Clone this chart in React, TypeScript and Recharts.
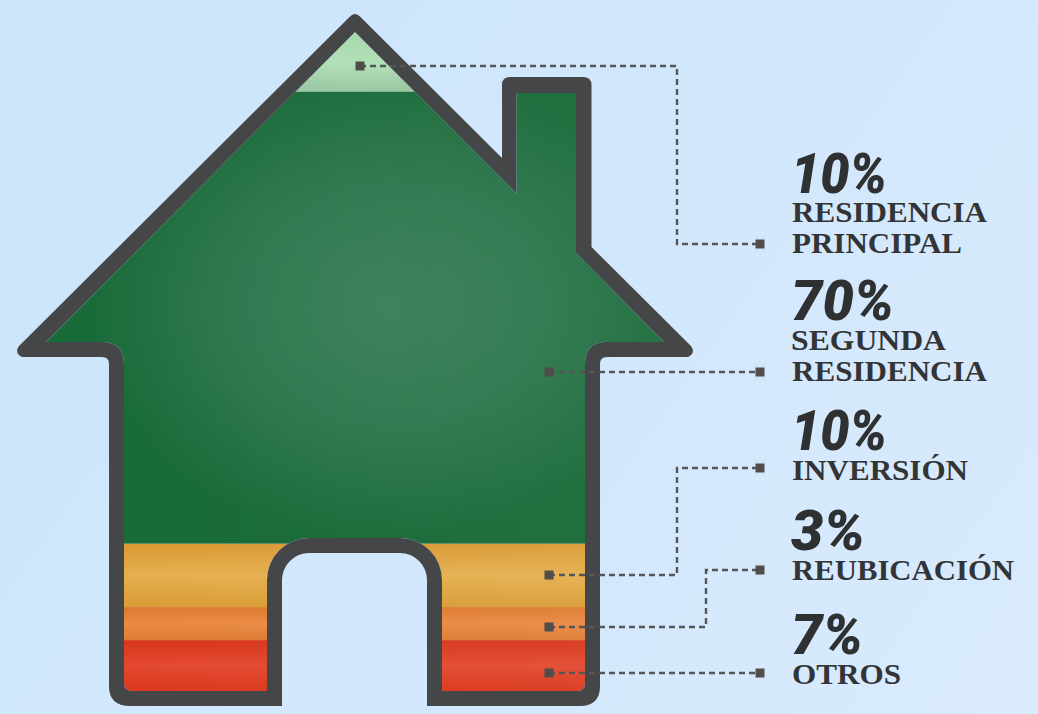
import React from "react";
import { BarChart, Bar, XAxis, YAxis } from "recharts";

// Printed shares, in the reference's label order
const labelValues = [10, 70, 10, 3, 7];
const labelNames = [
  ["RESIDENCIA", "PRINCIPAL"],
  ["SEGUNDA", "RESIDENCIA"],
  ["INVERSIÓN"],
  ["REUBICACIÓN"],
  ["OTROS"],
];
// Band thickness as drawn inside the house (share of house height)
const seriesKeys = ["otros", "reubicacion", "inversion", "segunda", "principal"];
const bandHeights = [7.7, 5.0, 9.6, 68.4, 9.3];
const bandFills = ["url(#gRed)", "url(#gOrange)", "url(#gYellow)", "url(#gGreen)", "url(#gPale)"];

const row: Record<string, any> = { name: "Vivienda" };
seriesKeys.forEach((k, i) => (row[k] = bandHeights[i]));
const table = [row];

const W = 1038;
const H = 714;
const INK = "#454648";

const OUTER =
  "M349.5,17 Q355,11 360.5,17 L502,158 L502,85 Q502,77 510,77 L583,77 Q591.5,77 591.5,85 L591.5,247 L691,346 Q696,353 688,357 L607,357 Q600,357 600,364 L600,686 Q600,706 580,706 L427,706 L427,580 A27,27 0 0 0 400,553 L309,553 A27,27 0 0 0 282,580 L282,706 L130,706 Q109,706 109,686 L109,364 Q109,357 102,357 L22,357 Q14,353 19,346 Z";
const INNER =
  "M355,32 L516.5,193.5 L516.5,93 L576,93 L576,253 L664,342 L607,342 Q585,342 585,364 L585,683 Q585,691 577,691 L442,691 L442,580 A42,42 0 0 0 400,538 L309,538 A42,42 0 0 0 267,580 L267,691 L132,691 Q124,691 124,683 L124,364 Q124,342 102,342 L46,342 Z";

// Leader routes and text placement
const leaders = [
  { pts: "360,66 677,66 677,244 760,244", from: [360, 66], to: [760, 244] },
  { pts: "549,372 760,372", from: [549, 372], to: [760, 372] },
  { pts: "549,575 677,575 677,468 760,468", from: [549, 575], to: [760, 468] },
  { pts: "549,627 706,627 706,570 760,570", from: [549, 627], to: [760, 570] },
  { pts: "549,673 760,673", from: [549, 673], to: [760, 673] },
];
const pctPlace = [
  { y: 192.5, w: 96 },
  { y: 320, w: 103 },
  { y: 450, w: 96 },
  { y: 550, w: 74 },
  { y: 654, w: 72 },
];
const namePlace = [
  [{ y: 221.5, x: 792, w: 195 }, { y: 252.5, x: 792, w: 170 }],
  [{ y: 350, x: 791, w: 155 }, { y: 380.5, x: 792, w: 195 }],
  [{ y: 480, x: 792, w: 176 }],
  [{ y: 580, x: 792, w: 222 }],
  [{ y: 684, x: 792, w: 109 }],
];

function Band(props: any) {
  const { x, y, width, height, fill } = props;
  return (
    <g clipPath="url(#houseClip)">
      <rect x={x} y={y} width={width} height={height} fill={fill} />
      <rect x={x} y={y} width={width} height={height} fill="url(#gSheen)" />
    </g>
  );
}

function stops(a: string, b: string, c: string) {
  return [
    <stop key="0" offset="0" stopColor={a} />,
    <stop key="1" offset="0.5" stopColor={b} />,
    <stop key="2" offset="1" stopColor={c} />,
  ];
}

export default function App() {
  return (
    <div
      style={{
        position: "absolute",
        left: 0,
        top: 0,
        width: W,
        height: H,
        overflow: "hidden",
        background: "linear-gradient(125deg, #cbe5fb 0%, #d1e7fc 45%, #d9eafd 100%)",
      }}
    >
      <BarChart
        width={W}
        height={H}
        data={table}
        barCategoryGap={0}
        margin={{ top: 30, bottom: 23, left: 30, right: 358 }}
      >
        <defs>
          <clipPath id="houseClip">
            <path d={INNER} />
          </clipPath>
          <linearGradient id="gRed" x1="0" y1="0" x2="0" y2="1">
            {stops("#d8351a", "#e34a31", "#da381c")}
          </linearGradient>
          <linearGradient id="gOrange" x1="0" y1="0" x2="0" y2="1">
            {stops("#dd7a2f", "#ea8a45", "#dd7c33")}
          </linearGradient>
          <linearGradient id="gYellow" x1="0" y1="0" x2="0" y2="1">
            {stops("#da9a34", "#e5b050", "#d99c36")}
          </linearGradient>
          <linearGradient id="gPale" x1="0" y1="0" x2="0" y2="1">
            <stop offset="0" stopColor="#a6d7ab" />
            <stop offset="0.55" stopColor="#b1dfb6" />
            <stop offset="1" stopColor="#98c5a0" />
          </linearGradient>
          <radialGradient
            id="gGreen"
            gradientUnits="userSpaceOnUse"
            cx="385"
            cy="305"
            r="235"
            gradientTransform="translate(385 305) scale(1.3 1) translate(-385 -305)"
          >
            <stop offset="0" stopColor="#3a7f58" />
            <stop offset="0.5" stopColor="#2e784e" />
            <stop offset="1" stopColor="#186a38" />
          </radialGradient>
          <linearGradient id="gSheen" gradientUnits="userSpaceOnUse" x1="124" y1="0" x2="585" y2="0">
            <stop offset="0" stopColor="#ffffff" stopOpacity="0" />
            <stop offset="1" stopColor="#ffffff" stopOpacity="0.04" />
          </linearGradient>
        </defs>
        <XAxis dataKey="name" hide />
        <YAxis hide domain={[0, 100]} />
        {seriesKeys.map((k, i) => (
          <Bar
            key={k}
            dataKey={k}
            stackId="house"
            fill={bandFills[i]}
            shape={Band}
            isAnimationActive={false}
          />
        ))}
      </BarChart>
      <svg
        width={W}
        height={H}
        style={{ position: "absolute", left: 0, top: 0, pointerEvents: "none" }}
      >
        <path d={`${OUTER} ${INNER}`} fill={INK} fillRule="evenodd" />
        {leaders.map((l, i) => (
          <g key={i}>
            <polyline points={l.pts} fill="none" stroke="#555658" strokeWidth={2.4} strokeDasharray="6 4" />
            <rect x={l.from[0] - 4.5} y={l.from[1] - 4.5} width={9} height={9} fill="#504d4b" />
            <rect x={l.to[0] - 4.5} y={l.to[1] - 4.5} width={9} height={9} fill="#504d4b" />
          </g>
        ))}
        {labelValues.map((v, i) => (
          <text
            key={`p${i}`}
            x={791}
            y={pctPlace[i].y}
            fontFamily="Roboto, sans-serif"
            fontWeight={900}
            fontStyle="italic"
            fontSize={56}
            fill="#2f3032"
            textLength={pctPlace[i].w}
            lengthAdjust="spacingAndGlyphs"
          >
            {`${v}%`}
          </text>
        ))}
        {labelNames.map((lines, i) =>
          lines.map((t, j) => (
            <text
              key={`n${i}${j}`}
              x={namePlace[i][j].x}
              y={namePlace[i][j].y}
              fontFamily="'Liberation Serif', serif"
              fontWeight={700}
              fontSize={30}
              fill="#333436"
              textLength={namePlace[i][j].w}
              lengthAdjust="spacingAndGlyphs"
            >
              {t}
            </text>
          ))
        )}
      </svg>
    </div>
  );
}
